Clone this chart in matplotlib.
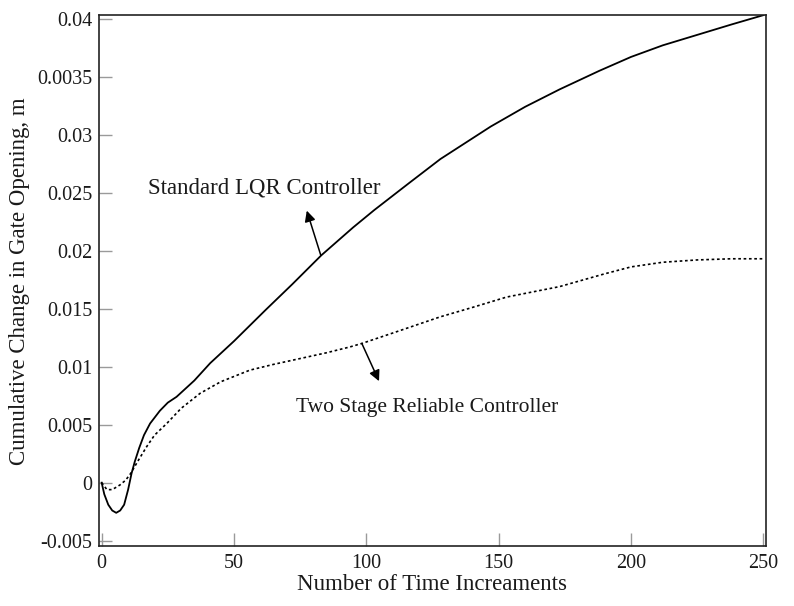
import matplotlib
matplotlib.use("Agg")
import matplotlib.pyplot as plt
from matplotlib.ticker import FixedLocator, FixedFormatter

plt.rcParams['font.family'] = ['Liberation Serif', 'DejaVu Serif']

# Standard LQR controller (solid)
lqr_x = [0, 1, 2.5, 4, 5.5, 7, 8.5, 10, 11.3, 12.5, 14.2, 16, 18.3, 22, 25, 28.3,
         35, 41, 50, 62, 72, 83, 90, 95, 103, 116, 128, 147, 160, 173, 188, 200,
         212, 225, 238, 250]
lqr_y = [0, -0.0010, -0.0019, -0.0024, -0.0026, -0.0024, -0.0019, -0.0006, 0.0008,
         0.0018, 0.0030, 0.0041, 0.0051, 0.0062, 0.0069, 0.0074, 0.0088, 0.0103,
         0.0122, 0.0149, 0.0171, 0.0196, 0.0210, 0.0220, 0.0235, 0.0258, 0.0279,
         0.0307, 0.0324, 0.0339, 0.0355, 0.0367, 0.0377, 0.0386, 0.0395, 0.0403]

# Two stage reliable controller (dotted)
tsr_x = [0, 2, 4, 6.9, 9, 10.7, 12, 13.8, 17, 20, 24.6, 30, 37.2, 45, 56, 65, 75,
         85, 93.8, 98.3, 110, 128, 140, 153, 173, 190, 200, 212, 225, 238, 250]
tsr_y = [0, -0.0006, -0.0006, -0.0002, 0.0002, 0.0007, 0.0012, 0.0019, 0.0031,
         0.0041, 0.0051, 0.0064, 0.0077, 0.0087, 0.0097, 0.0102, 0.0107, 0.0112,
         0.0117, 0.0120, 0.0129, 0.0143, 0.0151, 0.0160, 0.0169, 0.0180, 0.0186,
         0.0190, 0.0192, 0.0193, 0.0193]

ytick_vals = [0.04, 0.035, 0.03, 0.025, 0.02, 0.015, 0.01, 0.005, 0, -0.005]
ytick_labels = ['0.04', '0.0035', '0.03', '0.025', '0.02', '0.015', '0.01',
                '0.005', '0', '-0.005']
xtick_vals = [0, 50, 100, 150, 200, 250]
xtick_labels = ['0', '50', '100', '150', '200', '250']

fig = plt.figure(figsize=(7.94, 6.06), dpi=100)
ax = fig.add_axes([99/794, 1-546/606, (766-99)/794, (546-14.7)/606])

ax.plot(lqr_x, lqr_y, color='black', lw=1.3, solid_joinstyle='round')
ax.plot(tsr_x, tsr_y, color='black', lw=1.2, linestyle=(0, (1.6, 1.6)))

ax.set_xlim(-1.0, 251.0)
ax.set_ylim(-0.00546, 0.04034)

ax.xaxis.set_major_locator(FixedLocator(xtick_vals))
ax.xaxis.set_major_formatter(FixedFormatter(xtick_labels))
ax.yaxis.set_major_locator(FixedLocator(ytick_vals))
ax.yaxis.set_major_formatter(FixedFormatter(ytick_labels))

ax.tick_params(axis='both', direction='in', length=9.5, width=1.0,
               color='#9a9a9a', labelsize=14.5, labelcolor='#1a1a1a')
ax.tick_params(axis='x', pad=6)
ax.tick_params(axis='y', pad=5)
ax.tick_params(top=False, right=False)

for s in ax.spines.values():
    s.set_color('#222222')
    s.set_linewidth(1.2)

fig.text(432/794, 1-584/606, 'Number of Time Increaments', ha='center',
         va='center', fontsize=16.5, color='#1a1a1a')
fig.text(20/794, 1-281/606, 'Cumulative Change in Gate Opening, m', ha='center',
         va='center', rotation=90, fontsize=16.5, color='#1a1a1a')

ax.annotate('', xy=(77.5, 0.02345), xytext=(82.8, 0.0196),
            arrowprops=dict(arrowstyle='-|>', color='black', lw=1.1,
                            mutation_scale=16, shrinkA=0, shrinkB=0))
ax.text(61.3, 0.02536, 'Standard LQR Controller', ha='center', va='center',
        fontsize=16.5, color='#1a1a1a')

ax.annotate('', xy=(104.8, 0.00875), xytext=(98.3, 0.0120),
            arrowprops=dict(arrowstyle='-|>', color='black', lw=1.1,
                            mutation_scale=16, shrinkA=0, shrinkB=0))
ax.text(122.9, 0.0065, 'Two Stage Reliable Controller', ha='center',
        va='center', fontsize=15.5, color='#1a1a1a')

fig.savefig('out.png', dpi=100)
